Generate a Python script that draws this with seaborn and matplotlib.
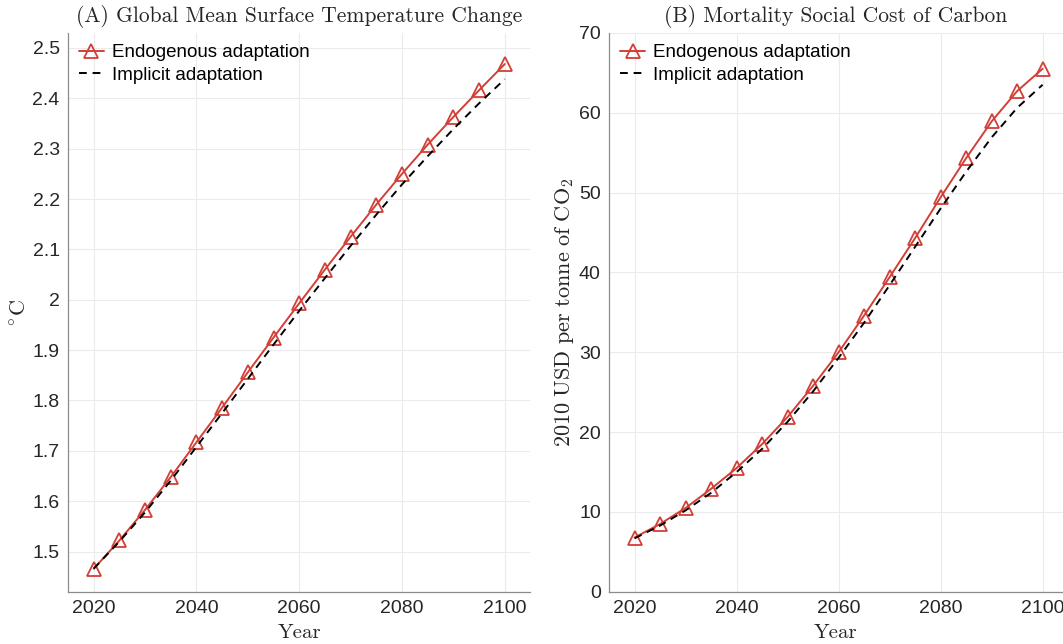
import numpy as np
import pandas as pd
import matplotlib
matplotlib.use('Agg')
import matplotlib.pyplot as plt
import seaborn as sns

# Data
years = [2020, 2025, 2030, 2035, 2040, 2045, 2050, 2055, 2060,
         2065, 2070, 2075, 2080, 2085, 2090, 2095, 2100]

temp_endog = [1.466, 1.522, 1.583, 1.648, 1.717, 1.786, 1.856, 1.925, 1.993,
              2.060, 2.125, 2.189, 2.250, 2.308, 2.363, 2.416, 2.468]
temp_implicit = [1.466, 1.520, 1.578, 1.641, 1.708, 1.775, 1.843, 1.911, 1.978,
                 2.043, 2.107, 2.169, 2.229, 2.285, 2.339, 2.390, 2.438]

scc_endog = [6.8, 8.5, 10.5, 12.9, 15.5, 18.5, 21.9, 25.8, 30.0,
             34.6, 39.4, 44.3, 49.4, 54.3, 58.9, 62.7, 65.5]
scc_implicit = [6.7, 8.3, 10.2, 12.4, 15.0, 17.9, 21.3, 25.1, 29.3,
                33.7, 38.4, 43.2, 48.0, 52.6, 56.9, 60.6, 63.5]

temp_ticks = [1.5, 1.6, 1.7, 1.8, 1.9, 2.0, 2.1, 2.2, 2.3, 2.4, 2.5]
temp_ticklabels = ['1.5', '1.6', '1.7', '1.8', '1.9', '2', '2.1', '2.2', '2.3', '2.4', '2.5']
scc_ticks = [0, 10, 20, 30, 40, 50, 60, 70]
year_ticks = [2020, 2040, 2060, 2080, 2100]

sns.set_theme(style='white')
plt.rcParams['font.family'] = ['Liberation Sans', 'DejaVu Sans']
plt.rcParams['mathtext.fontset'] = 'cm'

red = '#d23f36'
serif = 'cmr10'

fig = plt.figure(figsize=(10.63, 6.44), dpi=100)
ax1 = fig.add_axes([0.064, 0.081, 0.435, 0.868])
ax2 = fig.add_axes([0.573, 0.081, 0.427, 0.868])


def draw(ax, endog, implicit):
    df = pd.DataFrame({'Year': years, 'endog': endog, 'implicit': implicit})
    sns.lineplot(data=df, x='Year', y='endog', ax=ax, color=red, lw=1.4,
                 marker='^', markersize=10, markerfacecolor='none',
                 markeredgecolor=red, markeredgewidth=1.3,
                 label='Endogenous adaptation')
    sns.lineplot(data=df, x='Year', y='implicit', ax=ax, color='black', lw=1.4,
                 linestyle=(0, (4, 3)), label='Implicit adaptation')
    ax.grid(True, color='#ebebeb', lw=0.8)
    ax.set_axisbelow(True)
    for s in ['top', 'right']:
        ax.spines[s].set_visible(False)
    for s in ['left', 'bottom']:
        ax.spines[s].set_color('#8c8c8c')
        ax.spines[s].set_linewidth(0.9)
    ax.tick_params(direction='in', length=4, width=0.8, color='#8c8c8c',
                   labelsize=14, labelcolor='#262626', pad=6)
    ax.set_xticks(year_ticks)
    ax.set_xlabel('Year', fontfamily=serif, fontsize=15, labelpad=5)
    leg = ax.legend(loc='upper left', frameon=False, fontsize=13.5,
                    handlelength=1.3, handletextpad=0.45, borderaxespad=0.2,
                    labelspacing=0.3)
    for t in leg.get_texts():
        t.set_color('black')


draw(ax1, temp_endog, temp_implicit)
ax1.set_xlim(2015, 2105)
ax1.set_ylim(1.42, 2.53)
ax1.set_yticks(temp_ticks)
ax1.set_yticklabels(temp_ticklabels)
ax1.set_ylabel(r'$^{\circ}\mathrm{C}$', fontsize=16, labelpad=1)
ax1.set_title('(A) Global Mean Surface Temperature Change', fontfamily=serif,
              fontsize=15.5, pad=8)

draw(ax2, scc_endog, scc_implicit)
ax2.set_xlim(2015, 2104)
ax2.set_ylim(0, 70)
ax2.set_yticks(scc_ticks)
ax2.set_ylabel(r'$\mathrm{2010\ USD\ per\ tonne\ of\ CO_2}$', fontsize=16, labelpad=2)
ax2.set_title('(B) Mortality Social Cost of Carbon', fontfamily=serif,
              fontsize=15.5, pad=8)

fig.savefig('out.png', dpi=100)
